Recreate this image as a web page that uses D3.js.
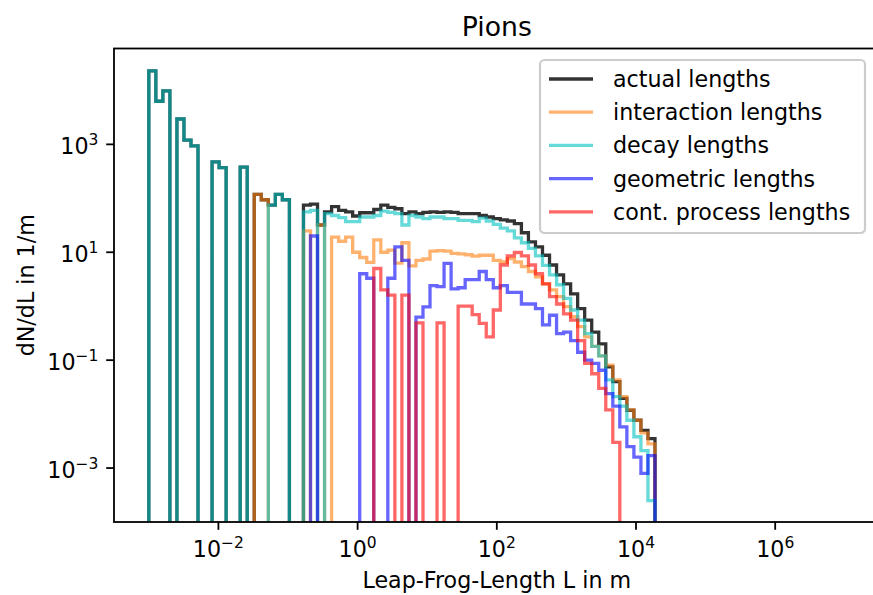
<!DOCTYPE html>
<html><head><meta charset="utf-8">
<script src="https://cdn.jsdelivr.net/npm/d3@7"></script>
<style>body{margin:0;background:#fff} svg{display:block;font-family:"DejaVu Sans",sans-serif}</style>
</head><body><svg id="c" width="873" height="595"></svg>
<script>
const chartTitle = "Pions";
const xLabel = "Leap-Frog-Length L in m";
const yLabel = "dN/dL in 1/m";
// histogram binning (log-spaced edges, exponent range and bin count)
const binExpMin = -3, binExpMax = 7, binCount = 99;
const xTickExps = [-2, 0, 2, 4, 6];
const yTickExps = [-3, -1, 1, 3];
const seriesNames = ["actual lengths", "interaction lengths", "decay lengths", "geometric lengths", "cont. process lengths"];
const seriesColors = ["#000000", "#ff7f0e", "#00bfbf", "#0000ff", "#ff0000"];
const seriesAlpha = [0.8, 0.6, 0.6, 0.6, 0.6];

const actual = [
23000,6300,9800,0,2950,1200,940,0,0,475,
370,0,0,380,0,118,94,75,118,94,
0,0,75,78,32,56,70,60,56,47,
54,54,62,75,68,64,52,56,52,55,
56,55,56,55,52,52,52,48,45,42,
40,38,34,23,15.6,12.6,8.8,5.8,3.8,2.6,
1.7,0.9,0.55,0.33,0.2,0.075,0.04,0.0195,0.0118,0.0077,
0.005,0.0035];
const interaction = [
0,0,0,0,0,0,0,0,0,0,
0,0,0,0,0,118,94,0,0,0,
0,0,25,0,32,0,19,16,19,10,
8,6.5,17,10,11,6.3,15,5.6,7.1,7.5,
10.5,10.7,10.5,9.5,9.3,9,8.5,8.8,8.8,7.1,
6.6,7.6,6.6,5.4,4.4,3.5,2.6,2.0,1.5,0.98,
0.64,0.42,0.27,0.18,0.12,0.081,0.043,0.021,0.012,0.0077,
0.0045,0.0028];
const decay = [
23000,6300,9800,0,2950,1200,940,0,0,475,
370,0,0,380,0,0,0,75,118,94,
0,0,56,60,0,52,48,44,37,37,
45,45,48,58,55,52,32,48,45,42,
45,45,42,42,39,39,37,43,38,33,
28,25,18.5,15,11.8,8.6,5.7,3.8,2.5,1.4,
0.85,0.55,0.31,0.18,0.12,0.043,0.021,0.014,0.0077,0.0038,
0.0021,0.00025];
const geometric = [
0,0,0,0,0,0,0,0,0,0,
0,0,0,0,0,0,0,0,0,0,
0,0,0,20,0,0,0,0,0,0,
4.0,3.3,0,0,3.3,12.6,7.1,0,0.63,0.97,
2.4,2.3,6.2,2.1,2.2,3.1,3.1,4.4,3.1,2.2,
2.4,1.8,1.8,1.1,1.1,0.9,0.45,0.68,0.31,0.33,
0.23,0.14,0.1,0.087,0.065,0.024,0.014,0.0058,0.0025,0.0016,
0.0008,0.0017];
const contProcess = [
0,0,0,0,0,0,0,0,0,0,
0,0,0,0,0,0,0,0,0,0,
0,0,0,0,0,0,0,0,0,0,
0,0,5.0,2.0,1.6,0,1.6,0,0.49,0,
0,0.49,0,0,1.0,1.0,0.7,0.48,0.27,0.85,
5.8,8.6,9.9,8.6,5.8,4.0,2.6,1.5,1.1,0.72,
0.55,0.23,0.087,0.056,0.03,0.012,0.003,0,0,0,
0,0];
const seriesValues = [actual, interaction, decay, geometric, contProcess];

const W = 873, H = 595;
const plot = {left: 114, right: 879.6, top: 48.5, bottom: 522};
const svg = d3.select("#c");

const edges = d3.range(binCount + 1).map(k => Math.pow(10, binExpMin + (binExpMax - binExpMin) * k / binCount));
const span = binExpMax - binExpMin;
const x = d3.scaleLog().domain([Math.pow(10, binExpMin - 0.05 * span), Math.pow(10, binExpMax + 0.05 * span)]).range([plot.left, plot.right]);
const y = d3.scaleLog().domain([1e-4, Math.pow(10, 4.777)]).range([plot.bottom, plot.top]);

svg.append("defs").append("clipPath").attr("id", "pc").append("rect")
  .attr("x", plot.left).attr("y", plot.top).attr("width", plot.right - plot.left).attr("height", plot.bottom - plot.top);

const yOf = v => v > 0 ? y(v) : plot.bottom + 30;
const g = svg.append("g").attr("clip-path", "url(#pc)");
seriesValues.forEach((vals, si) => {
  const pts = [[x(edges[0]), plot.bottom + 30]];
  for (let i = 0; i < binCount; i++) {
    const v = i < vals.length ? vals[i] : 0;
    pts.push([x(edges[i]), yOf(v)]);
    pts.push([x(edges[i + 1]), yOf(v)]);
  }
  pts.push([x(edges[binCount]), plot.bottom + 30]);
  g.append("path").attr("d", d3.line()(pts)).attr("fill", "none")
    .attr("stroke", seriesColors[si]).attr("stroke-opacity", seriesAlpha[si])
    .attr("stroke-width", 3.3).attr("stroke-linejoin", "miter").attr("stroke-linecap", "butt");
});

// spines
svg.append("rect").attr("x", plot.left).attr("y", plot.top).attr("width", plot.right - plot.left).attr("height", plot.bottom - plot.top)
  .attr("fill", "none").attr("stroke", "#000").attr("stroke-width", 1.8);

const fs = 22.2, sup = 15.5;
function powLabel(sel, e) {
  sel.append("tspan").text("10");
  sel.append("tspan").attr("dy", -9).attr("font-size", sup).text(e < 0 ? "\u2212" + (-e) : String(e));
}
// x ticks
xTickExps.forEach(e => {
  const px = x(Math.pow(10, e));
  svg.append("line").attr("x1", px).attr("x2", px).attr("y1", plot.bottom).attr("y2", plot.bottom + 7.8).attr("stroke", "#000").attr("stroke-width", 1.8);
  const t = svg.append("text").attr("x", px).attr("y", plot.bottom + 35).attr("text-anchor", "middle").attr("font-size", fs).attr("fill", "#000");
  powLabel(t, e);
});
// y ticks
yTickExps.forEach(e => {
  const py = y(Math.pow(10, e));
  svg.append("line").attr("x1", plot.left - 7.8).attr("x2", plot.left).attr("y1", py).attr("y2", py).attr("stroke", "#000").attr("stroke-width", 1.8);
  const t = svg.append("text").attr("x", plot.left - 15.6).attr("y", py + 10).attr("text-anchor", "end").attr("font-size", fs).attr("fill", "#000");
  powLabel(t, e);
});

svg.append("text").attr("x", (plot.left + plot.right) / 2).attr("y", 36).attr("text-anchor", "middle").attr("font-size", 26.7).text(chartTitle);
svg.append("text").attr("x", (plot.left + plot.right) / 2).attr("y", 588).attr("text-anchor", "middle").attr("font-size", fs).text(xLabel);
svg.append("text").attr("transform", `translate(34,${(plot.top + plot.bottom) / 2}) rotate(-90)`).attr("text-anchor", "middle").attr("font-size", fs).text(yLabel);

// legend
const lg = svg.append("g");
lg.append("rect").attr("x", 540).attr("y", 60).attr("width", 325).attr("height", 173).attr("rx", 4.4)
  .attr("fill", "#fff").attr("fill-opacity", 0.8).attr("stroke", "#cccccc").attr("stroke-width", 2.2);
seriesNames.forEach((n, i) => {
  const cy = 79 + i * 33.2;
  lg.append("line").attr("x1", 549).attr("x2", 593).attr("y1", cy).attr("y2", cy)
    .attr("stroke", seriesColors[i]).attr("stroke-opacity", seriesAlpha[i]).attr("stroke-width", 3.3);
  lg.append("text").attr("x", 613).attr("y", cy + 8).attr("font-size", fs).text(n);
});
</script></body></html>
